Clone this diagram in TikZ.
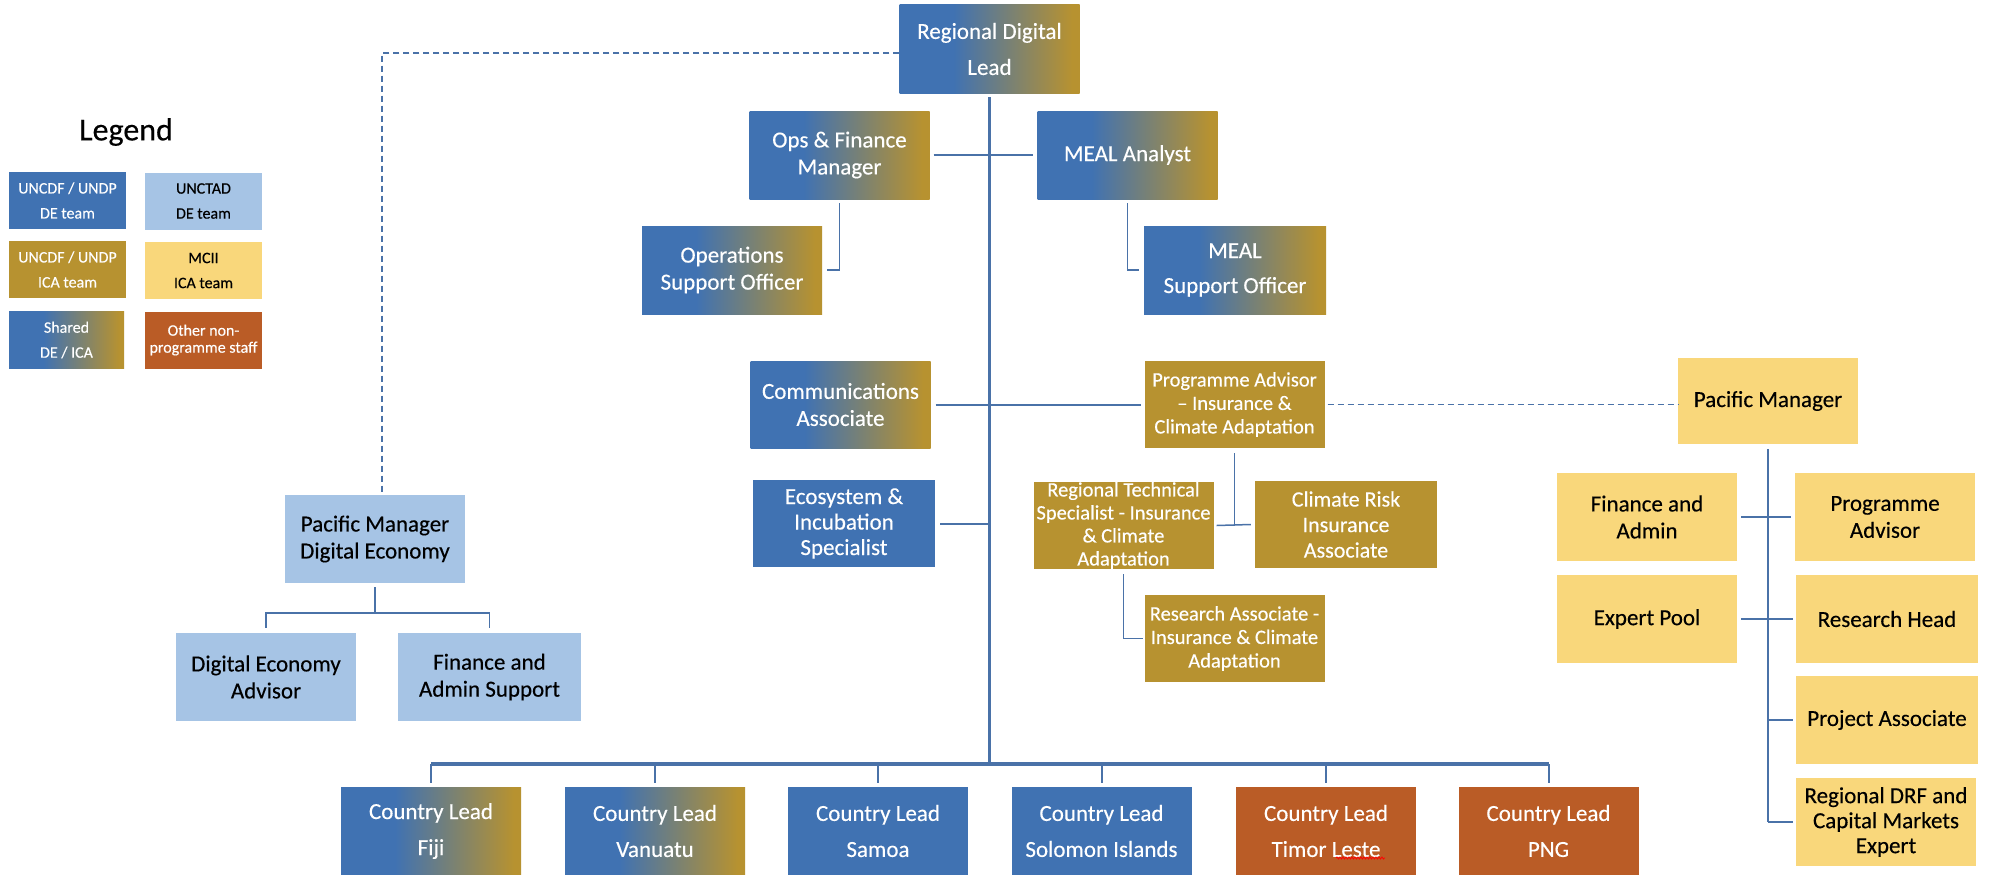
\documentclass[tikz,border=0pt]{standalone}
\usepackage{fontspec}
\setmainfont{Carlito}[FakeBold=0.3]
\usetikzlibrary{decorations.pathmorphing}

\definecolor{deblue}{RGB}{64,114,178}
\definecolor{icagold}{RGB}{183,146,48}
\definecolor{unctadblue}{RGB}{166,196,229}
\definecolor{mciiyellow}{RGB}{249,215,123}
\definecolor{otherstaff}{RGB}{186,92,38}
\definecolor{linkblue}{RGB}{74,114,168}

\pgfdeclarehorizontalshading{deica}{100bp}{color(0bp)=(deblue); color(40bp)=(deblue); color(73bp)=(icagold); color(100bp)=(icagold)}

\begin{document}
\begin{tikzpicture}[x=1pt, y=-1pt,
        box/.style={rectangle, inner sep=0pt, align=center, minimum width=180pt, minimum height=88pt,
                    font=\fontsize{23}{27}\selectfont},
        teamde/.style={box, fill=deblue, text=white},
        teamica/.style={box, fill=icagold, text=white},
        teamshared/.style={box, shade, shading=deica, text=white},
        teamunctad/.style={box, fill=unctadblue, text=black},
        teammcii/.style={box, fill=mciiyellow, text=black},
        teamother/.style={box, fill=otherstaff, text=white},
        smalltext/.style={font=\fontsize{20.5}{23.5}\selectfont},
        legendbox/.style={minimum width=117pt, minimum height=57pt, font=\fontsize{16}{25}\selectfont},
        link/.style={draw=linkblue, line width=2pt},
        thinlink/.style={draw=linkblue, line width=1.5pt},
        trunk/.style={draw=linkblue, line width=3pt},
        busline/.style={draw=linkblue, line width=3.5pt},
        dashlink/.style={draw=linkblue, line width=1.5pt, dash pattern=on 6pt off 4pt}]

    \fill[white] (0,0) rectangle (1995,875);
    \useasboundingbox (0,0) rectangle (1995,875);

    % legend
    \node (legendtitle) at (126,132) {\fontsize{32}{36}\selectfont Legend};
    \node[teamde, legendbox]     (lgdde)     at (67.5,200.5) {UNCDF / UNDP\\DE team};
    \node[teamunctad, legendbox] (lgdunctad) at (203.5,201)  {UNCTAD\\DE team};
    \node[teamica, legendbox]    (lgdica)    at (67.5,269.5) {UNCDF / UNDP\\ICA team};
    \node[teammcii, legendbox]   (lgdmcii)   at (203.5,270.5) {MCII\\ICA team};
    \node[teamshared, legendbox, minimum width=115pt] (lgdshared) at (66.5,340) {Shared\\DE / ICA};
    \node[teamother, legendbox, font=\fontsize{16}{17}\selectfont] (lgdother) at (203.5,340) {Other non-\\programme staff};

    % central team
    \node[teamshared] (rdl)  at (989.5,49)   {Regional Digital\\[9pt]Lead};
    \node[teamshared] (ops)  at (839.5,155)  {Ops \& Finance\\Manager};
    \node[teamshared] (meal) at (1127.5,155) {MEAL Analyst};
    \node[teamshared] (oso)  at (732,270)    {Operations\\Support Officer};
    \node[teamshared, minimum width=182pt] (mso) at (1235,270) {MEAL\\[8pt]Support Officer};
    \node[teamshared, minimum height=87pt] (comm) at (840.5,404.5) {Communications\\Associate};
    \node[teamde, minimum width=182pt, minimum height=87pt, font=\fontsize{23}{25.5}\selectfont] (eco) at (844,523.5) {Ecosystem \&\\Incubation\\Specialist};

    % insurance and climate adaptation
    \node[teamica, smalltext, minimum height=87pt] (pa)  at (1234.5,404.5) {Programme Advisor\\-- Insurance \&\\Climate Adaptation};
    \node[teamica, smalltext, minimum height=87pt, font=\fontsize{20.5}{23}\selectfont] (rts) at (1123.5,525.5) {Regional Technical\\Specialist - Insurance\\\& Climate\\Adaptation};
    \node[teamica, minimum width=182pt, minimum height=87pt, font=\fontsize{22}{25.5}\selectfont] (cri) at (1346,524.5) {Climate Risk\\Insurance\\Associate};
    \node[teamica, smalltext, minimum height=87pt] (ra)  at (1234.5,638.5) {Research Associate -\\Insurance \& Climate\\Adaptation};

    % MCII
    \node[teammcii, minimum height=86pt] (pm) at (1768,401) {Pacific Manager};
    \node[teammcii] (fa)  at (1647,517) {Finance and\\Admin};
    \node[teammcii] (pa2) at (1885,517) {Programme\\Advisor};
    \node[teammcii] (ep)  at (1647,619) {Expert Pool};
    \node[teammcii, minimum width=182pt] (rh)  at (1887,619) {Research Head};
    \node[teammcii, minimum width=182pt] (pja) at (1887,720) {Project Associate};
    \node[teammcii, font=\fontsize{23}{25}\selectfont] (drf) at (1886,822) {Regional DRF and\\Capital Markets\\Expert};

    % UNCTAD
    \node[teamunctad] (pmde) at (375,539)   {Pacific Manager\\Digital Economy};
    \node[teamunctad] (dea)  at (266,677)   {Digital Economy\\Advisor};
    \node[teamunctad, minimum width=183pt] (fas) at (489.5,677) {Finance and\\Admin Support};

    % country leads
    \node[teamshared] (fiji)    at (431,831)    {Country Lead\\[9pt]Fiji};
    \node[teamshared] (vanuatu) at (655,831)    {Country Lead\\[9pt]Vanuatu};
    \node[teamde]     (samoa)   at (878,831)    {Country Lead\\[9pt]Samoa};
    \node[teamde]     (solomon) at (1101.5,831) {Country Lead\\[9pt]Solomon Islands};
    \node[teamother]  (timor)   at (1326,831)   {Country Lead\\[9pt]Timor Leste};
    \node[teamother]  (png)     at (1548.5,831) {Country Lead\\[9pt]PNG};

    \coordinate (cbus)  at (989.5,764);
    \coordinate (debus) at (375,613);

    \draw[trunk] ([yshift=-4pt]rdl.south) -- (cbus);
    \draw[busline] (fiji.north |- cbus) -- (png.north |- cbus);
    \foreach \c in {fiji,vanuatu,samoa,solomon,timor,png}
        \draw[link] (\c.north |- cbus) -- ([yshift=4pt]\c.north);

    \draw[link] ([xshift=4pt]ops.east) -- ([xshift=-4pt]meal.west);
    \draw[thinlink] ([yshift=-4pt]ops.south) |- ([xshift=5pt]oso.east);
    \draw[thinlink] ([yshift=-4pt]meal.south) |- ([xshift=-5pt]mso.west);
    \draw[link] ([xshift=5pt]comm.east) -- ([xshift=-3pt]pa.west);
    \draw[link] ([xshift=5pt]eco.east) -- (eco.east -| rdl.south);

    \draw[thinlink] ([yshift=-5pt]pa.south) -- (pa.south |- rts.east);
    \draw[thinlink] ([xshift=3pt]rts.east) -- ([xshift=-4pt]cri.west);
    \draw[thinlink] ([yshift=-5pt]rts.south) |- ([xshift=-1pt]ra.west);

    \draw[dashlink] ([xshift=3pt]pa.east) -- (pa.east -| pm.west);
    \draw[dashlink] ([yshift=-4pt]rdl.west) -| ([xshift=7pt]pmde.north);

    \draw[link] ([yshift=-5pt]pm.south) -- (pm.south |- drf.west);
    \draw[link] ([xshift=4pt]fa.east) -- ([xshift=-4pt]pa2.west);
    \draw[link] ([xshift=4pt]ep.east) -- ([xshift=-3pt]rh.west);
    \draw[link] (pm.south |- pja.west) -- ([xshift=-3pt]pja.west);
    \draw[link] (pm.south |- drf.west) -- ([xshift=-3pt]drf.west);

    \draw[thinlink] ([yshift=-4pt]pmde.south) -- (debus);
    \draw[thinlink] ([yshift=5pt]dea.north) |- (debus) -| ([yshift=5pt]fas.north);

    \draw[red, line width=0.8pt, decorate, decoration={snake, amplitude=1pt, segment length=3pt}]
        ([xshift=10pt,yshift=-27pt]timor.center) -- ++(49,0);
\end{tikzpicture}
\end{document}
